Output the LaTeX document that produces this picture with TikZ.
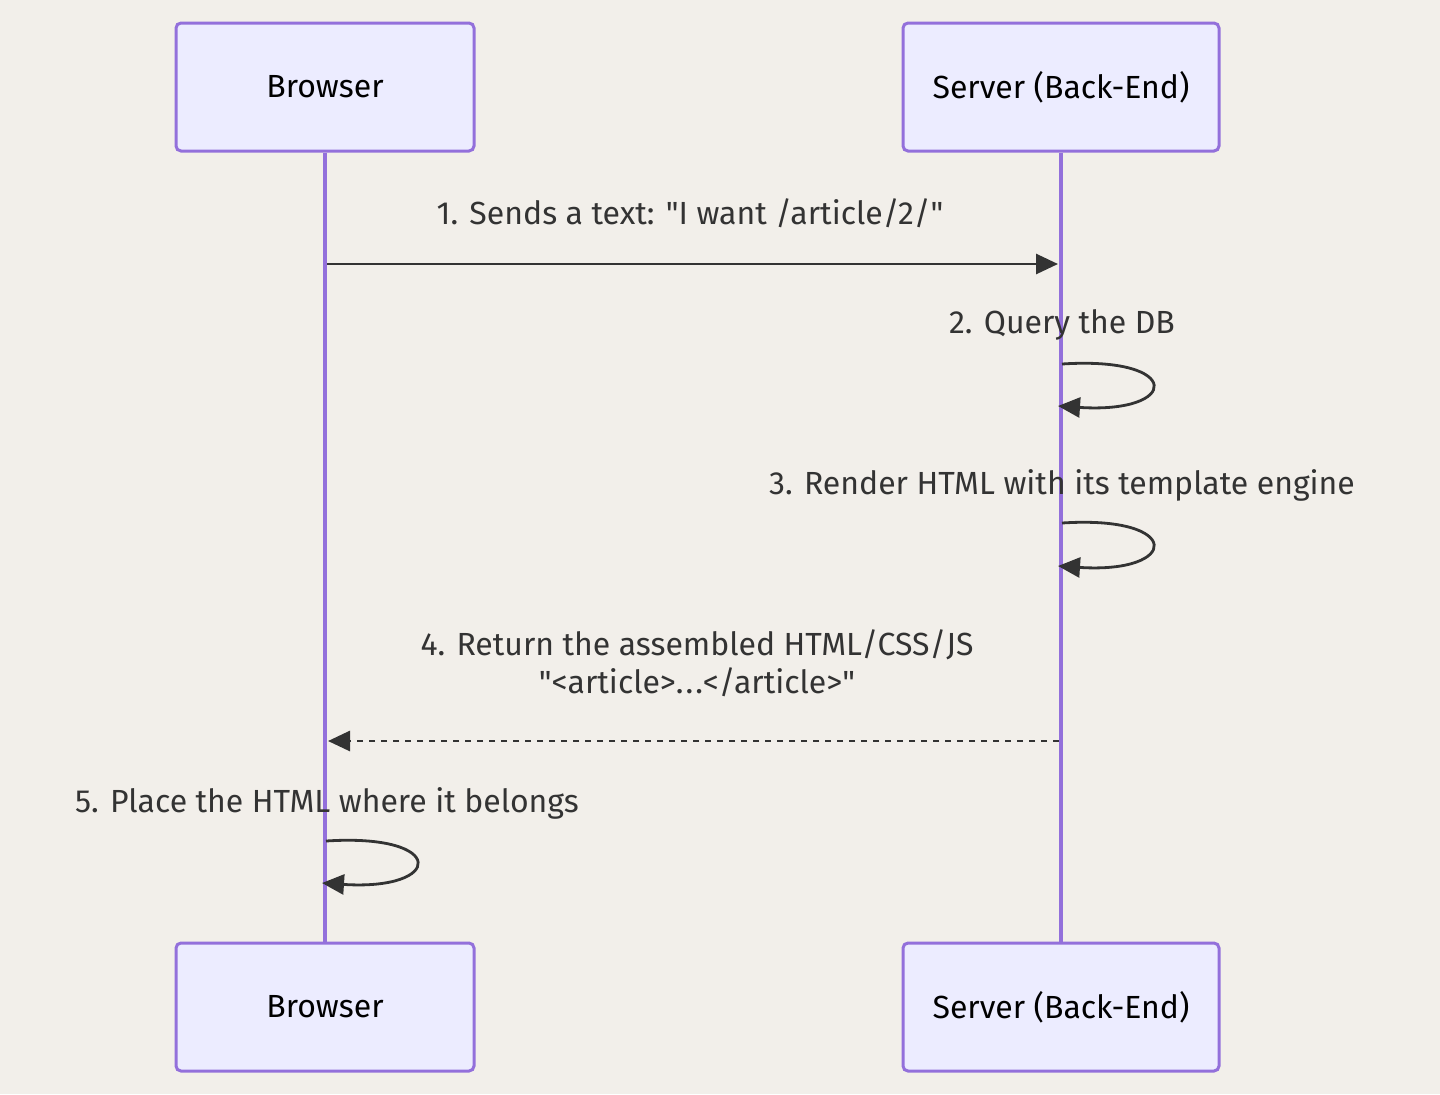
\documentclass[tikz,border=0pt]{standalone}
\usepackage{fontspec}
\setmainfont{Fira Sans}[Ligatures=TeXOff]
\usepackage{tikz}
\usepackage{xcolor}
\usetikzlibrary{arrows.meta,calc,positioning}
\definecolor{mmdbg}{RGB}{242,239,234}
\definecolor{mmdfill}{RGB}{236,236,255}
\definecolor{mmdborder}{RGB}{147,112,219}
\definecolor{mmdtext}{RGB}{51,51,51}

\begin{document}
\begin{tikzpicture}[x=0.5pt,y=-0.5pt,>={Triangle[length=11pt,width=10pt]},
  actor/.style={draw=mmdborder,fill=mmdfill,line width=1.5pt,rounded corners=2.5pt,
    minimum height=64pt,font=\fontsize{16}{19}\selectfont},
  life/.style={mmdborder,line width=1.75pt},
  msg/.style={mmdtext,line width=1.4pt,->},
  lbl/.style={text=mmdtext,font=\fontsize{16}{19}\selectfont,align=center,inner sep=0pt}]
  \fill[mmdbg] (0,0) rectangle (1440,1094);
  \node[actor,minimum width=149pt] (bt) at (325,87) {Browser};
  \node[actor,minimum width=158pt] (st) at (1061,87) {Server (Back-End)};
  \node[actor,minimum width=149pt] (bb) at (325,1007) {Browser};
  \node[actor,minimum width=158pt] (sb) at (1061,1007) {Server (Back-End)};
  \draw[life] (bt) -- (bb);
  \draw[life] (st) -- (sb);
  \coordinate (m1a) at (327,264);
  \coordinate (m1b) at (1058,264);
  \node[lbl] (l1) at (690,213) {1. Sends a text: "I want /article/2/"};
  \draw[msg] (m1a) -- (m1b);
  \coordinate (m2a) at (1062,364);
  \coordinate (m2b) at (1058,406);
  \node[lbl] (l2) at (1062,325) {2. Query the DB};
  \draw[msg] (m2a) .. controls +(122,-8) and +(122,8) .. (m2b);
  \coordinate (m3a) at (1062,523);
  \coordinate (m3b) at (1058,566);
  \node[lbl] (l3) at (1062,485) {3. Render HTML with its template engine};
  \draw[msg] (m3a) .. controls +(122,-8) and +(122,8) .. (m3b);
  \coordinate (m4a) at (1059,741);
  \coordinate (m4b) at (328,741);
  \node[lbl] (l4) at (697,663) {4. Return the assembled HTML/CSS/JS\\"<article>.\kern1pt.\kern1pt.</article>"};
  \draw[msg,dash pattern=on 3pt off 3pt] (m4a) -- (m4b);
  \coordinate (m5a) at (326,841);
  \coordinate (m5b) at (322,883);
  \node[lbl] (l5) at (327,803) {5. Place the HTML where it belongs};
  \draw[msg] (m5a) .. controls +(122,-8) and +(122,8) .. (m5b);
\end{tikzpicture}
\end{document}
